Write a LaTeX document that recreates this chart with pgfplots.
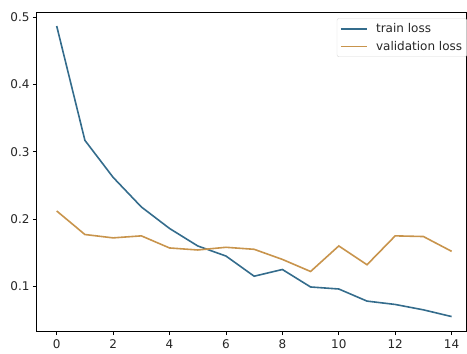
\documentclass[border=0pt]{standalone}
\usepackage{fontspec}
\setmainfont{DejaVu Sans}
\usepackage{pgfplots}
\pgfplotsset{compat=1.18}
\definecolor{trainc}{RGB}{52,108,140}
\definecolor{valc}{RGB}{200,148,76}
\begin{document}
\begin{tikzpicture}
\useasboundingbox (-36.5pt,-22.3pt) rectangle (430.5pt,331.7pt);
\begin{axis}[
  scale only axis,
  width=429.5pt, height=319pt,
  xmin=-0.716, xmax=14.51,
  ymin=0.0325, ymax=0.5068,
  xtick={0,2,...,14},
  ytick={0.1,0.2,0.3,0.4,0.5},
  yticklabel style={/pgf/number format/fixed,/pgf/number format/precision=1},
  /pgf/number format/assume math mode=true,
  tick align=outside,
  major tick length=3.5pt,
  tick style={black, line width=0.7pt},
  axis line style={black, line width=0.9pt},
  xtick pos=bottom, ytick pos=left,
  font=\fontsize{12}{14}\selectfont,
  tick label style={font=\fontsize{12}{14}\selectfont, text=black!85},
  xticklabel style={yshift=-1pt},
  legend style={at={(1.002,0.9824)}, anchor=north east, draw=black!15, rounded corners=2pt,
    font=\fontsize{12}{14}\selectfont, text=black!85, inner xsep=3pt, inner ysep=3.5pt,
    nodes={inner sep=1.5pt}, row sep=4pt,
    /tikz/every odd column/.append style={column sep=7pt}},
  legend cell align=left,
  legend image code/.code={\draw[#1] (0pt,0pt) -- (26pt,0pt);},
]
\addplot[trainc, line width=1.6pt] coordinates {
(0,0.487)(1,0.317)(2,0.262)(3,0.218)(4,0.186)(5,0.160)(6,0.145)(7,0.115)
(8,0.125)(9,0.099)(10,0.096)(11,0.078)(12,0.073)(13,0.065)(14,0.055)};
\addlegendentry{train loss}
\addplot[valc, line width=1.6pt] coordinates {
(0,0.212)(1,0.177)(2,0.172)(3,0.175)(4,0.157)(5,0.154)(6,0.158)(7,0.155)
(8,0.140)(9,0.122)(10,0.160)(11,0.132)(12,0.175)(13,0.174)(14,0.152)};
\addlegendentry{validation loss}
\end{axis}
\end{tikzpicture}
\end{document}
